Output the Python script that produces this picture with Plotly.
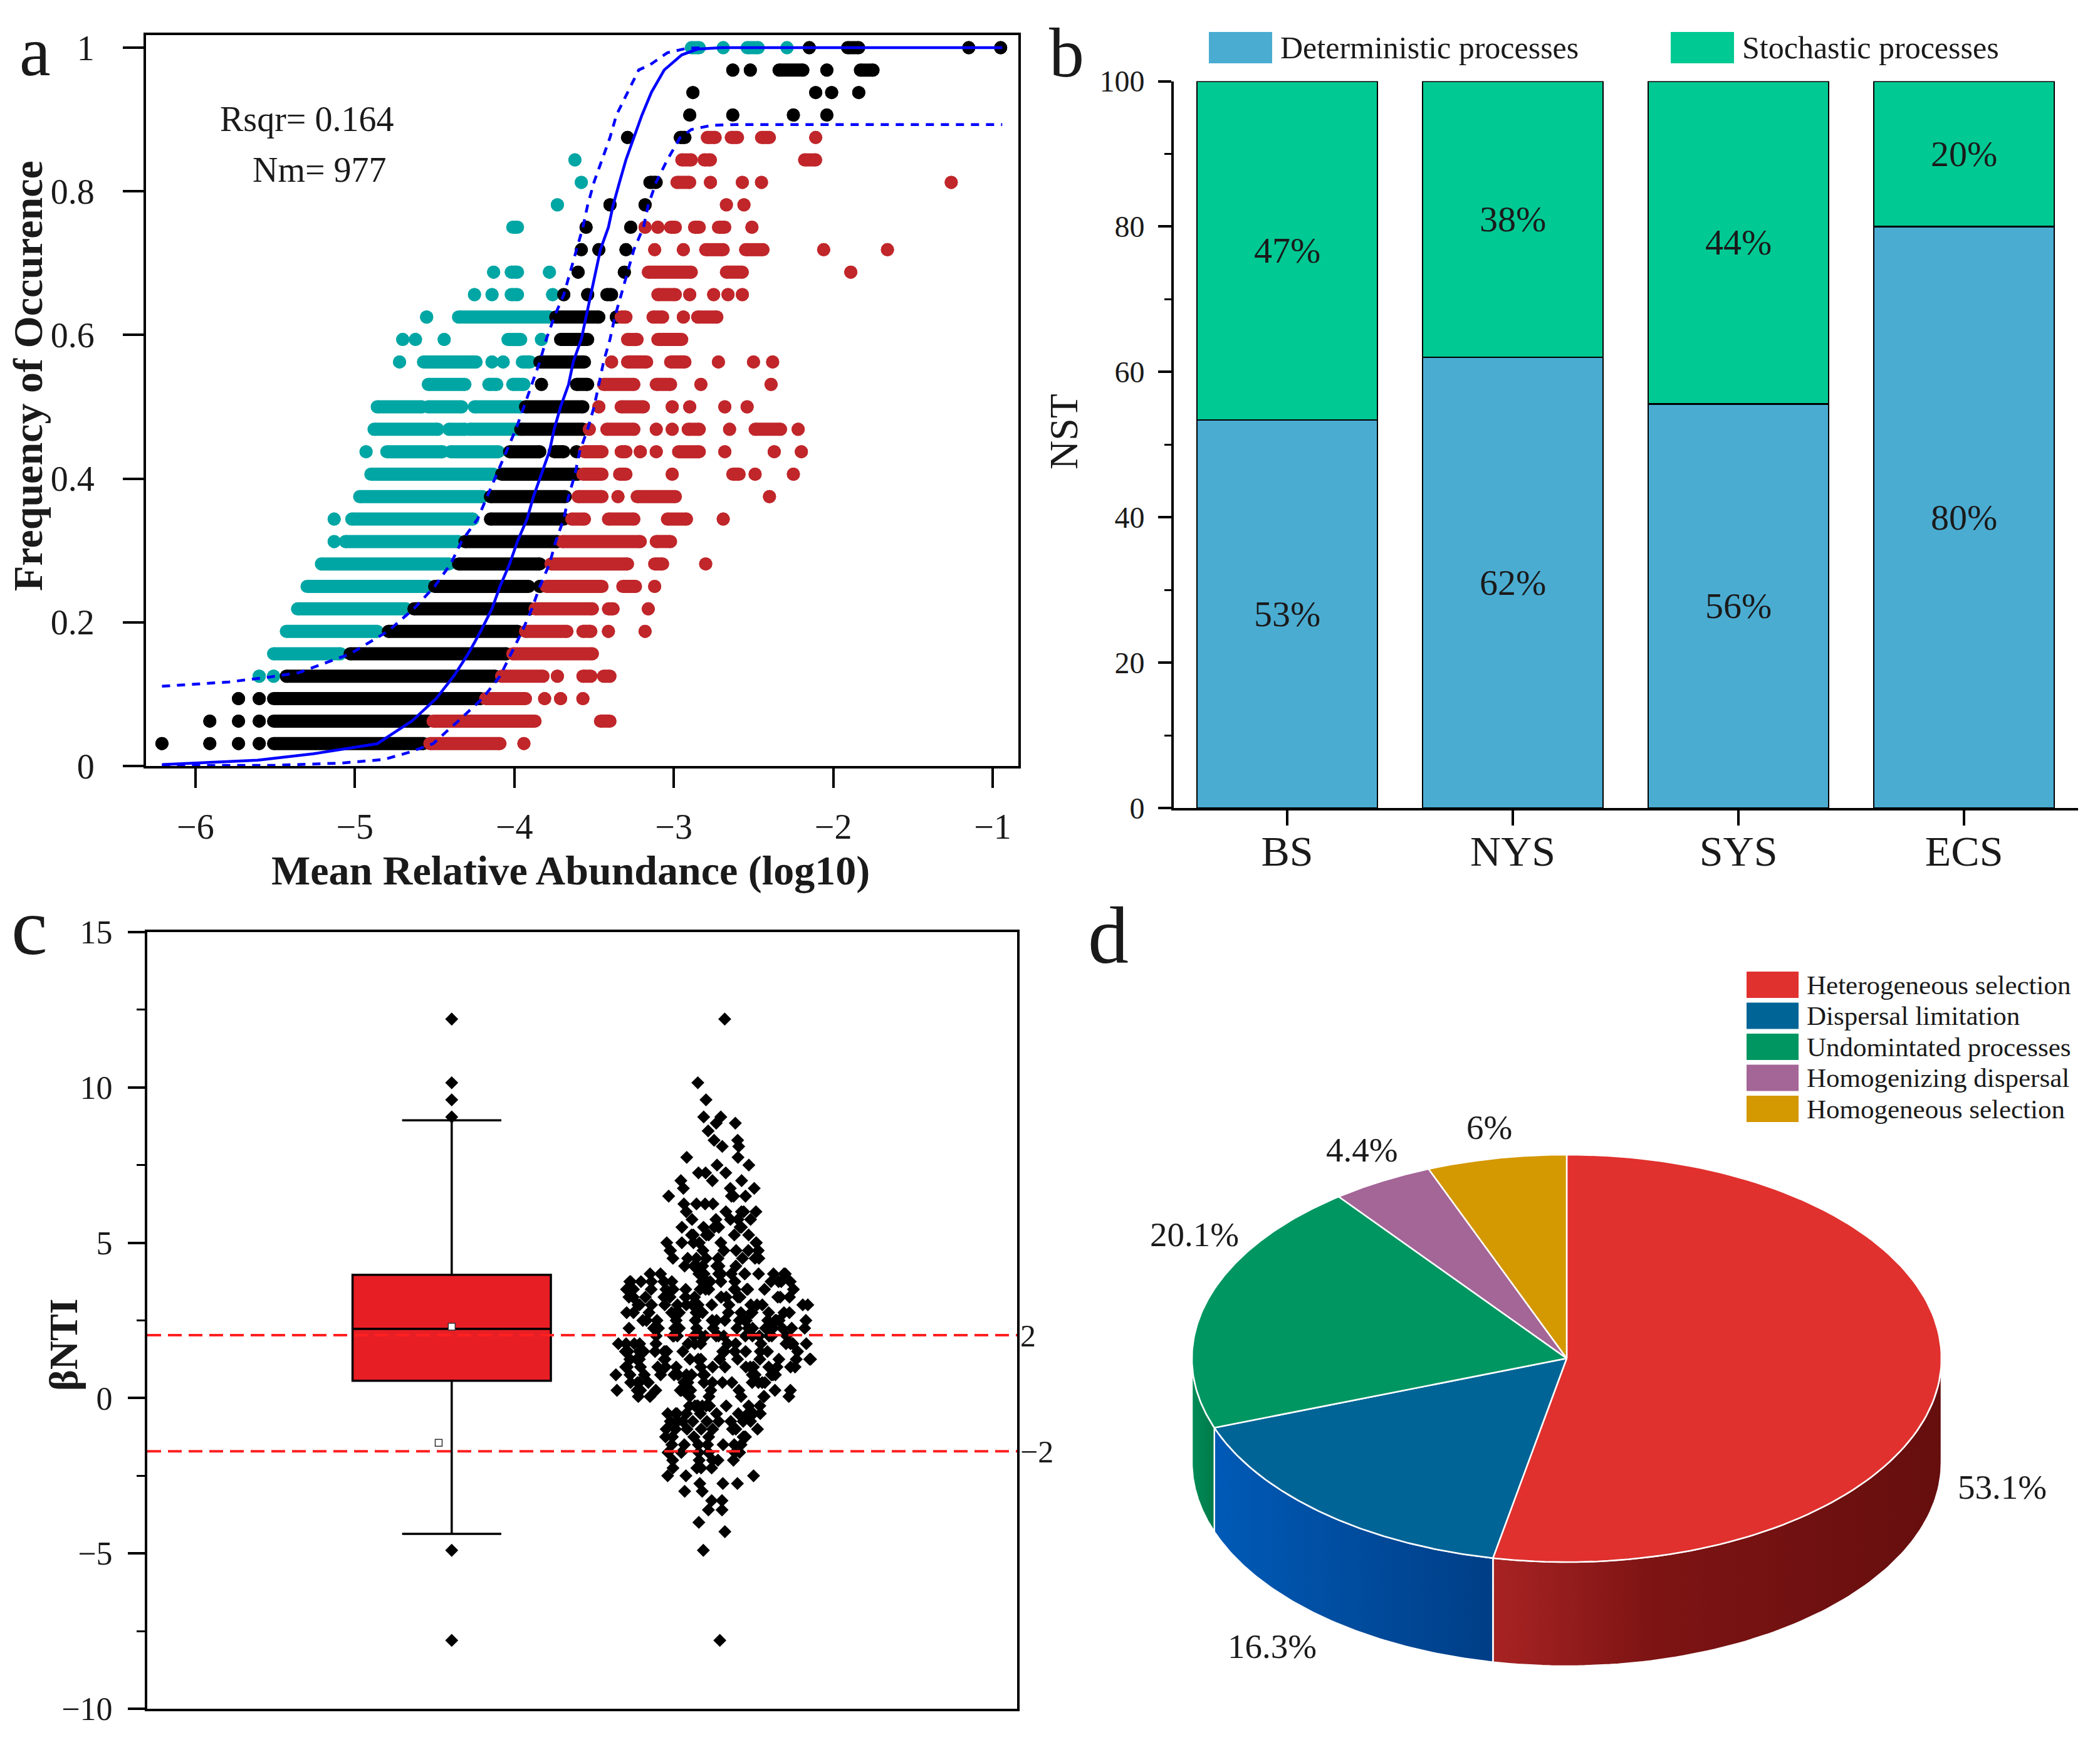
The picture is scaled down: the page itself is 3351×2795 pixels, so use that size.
import numpy as np
import plotly.graph_objects as go

# page is 3351x2795; the html body adds an 8px margin, so the figure is drawn 16px smaller
W, H = 3351, 2795
PAD = 8
FIG_W, FIG_H = W - 2 * PAD, H - 2 * PAD
SERIF = "Liberation Serif, Times New Roman, serif"
INK = "#1a1a1a"


def fx(px):
    return (px - PAD) / FIG_W


def fy(py):
    return 1 - (py - PAD) / FIG_H


# -----------------
# a: neutral community model (occurrence in k of 32 samples)
# -----------------
N_SAMPLES = 32
TEAL_SEGS = [
    (4, -5.60, -5.60), (4, -5.51, -5.51), (5, -5.51, -5.09), (6, -5.43, -4.86),
    (7, -5.36, -4.68), (8, -5.30, -4.54), (9, -5.21, -4.41),
    (10, -5.13, -5.13), (10, -5.06, -4.35), (11, -5.13, -5.13), (11, -5.02, -4.26),
    (12, -4.97, -4.20), (13, -4.90, -4.13),
    (14, -4.93, -4.93), (14, -4.80, -4.45), (14, -4.40, -4.10),
    (15, -4.88, -4.48), (15, -4.41, -4.31), (15, -4.28, -3.98),
    (16, -4.86, -4.58), (16, -4.54, -4.33), (16, -4.25, -3.96),
    (17, -4.54, -4.31), (17, -4.16, -4.11), (17, -4.01, -3.94),
    (18, -4.72, -4.72), (18, -4.57, -4.24), (18, -4.14, -4.14), (18, -4.07, -4.07), (18, -3.95, -3.90),
    (19, -4.70, -4.70), (19, -4.62, -4.62), (19, -4.44, -4.44), (19, -4.04, -3.96), (19, -3.83, -3.83),
    (20, -4.55, -4.55), (20, -4.35, -3.78),
    (21, -4.25, -4.25), (21, -4.14, -4.14), (21, -4.02, -3.98), (21, -3.76, -3.76),
    (22, -4.13, -4.13), (22, -4.02, -3.98), (22, -3.78, -3.78),
    (24, -4.01, -3.98), (25, -3.73, -3.73), (26, -3.58, -3.58), (27, -3.62, -3.62),
    (32, -2.89, -2.84), (32, -2.69, -2.69), (32, -2.54, -2.47), (32, -2.29, -2.29),
]
BLACK_SEGS = [
    (1, -6.21, -6.21), (1, -5.91, -5.91), (1, -5.73, -5.73), (1, -5.60, -5.60), (1, -5.51, -4.57),
    (2, -5.91, -5.91), (2, -5.73, -5.73), (2, -5.60, -5.60), (2, -5.51, -4.54),
    (3, -5.73, -5.73), (3, -5.60, -5.60), (3, -5.51, -4.21),
    (4, -5.43, -4.12), (5, -5.03, -4.05), (6, -4.79, -3.98), (7, -4.63, -3.90),
    (8, -4.50, -3.91), (8, -3.84, -3.84), (9, -4.35, -3.84), (10, -4.31, -3.73),
    (11, -4.15, -3.69), (12, -4.15, -3.68), (13, -4.08, -3.60),
    (14, -4.03, -3.84), (14, -3.75, -3.69), (14, -3.61, -3.61),
    (15, -3.96, -3.57), (16, -3.93, -3.57), (17, -3.83, -3.83), (17, -3.61, -3.54),
    (18, -3.84, -3.56), (19, -3.71, -3.54), (20, -3.74, -3.47), (20, -3.36, -3.36),
    (21, -3.69, -3.69), (21, -3.54, -3.54), (21, -3.42, -3.39),
    (22, -3.60, -3.60), (22, -3.31, -3.31),
    (23, -3.58, -3.58), (23, -3.47, -3.47), (23, -3.30, -3.30),
    (24, -3.55, -3.55), (24, -3.27, -3.27), (25, -3.40, -3.40), (25, -3.18, -3.18),
    (26, -3.15, -3.11), (28, -3.29, -3.29), (28, -2.96, -2.93),
    (29, -2.90, -2.90), (29, -2.63, -2.63), (29, -2.25, -2.25), (29, -2.04, -2.04),
    (30, -2.88, -2.88), (30, -2.11, -2.11), (30, -2.01, -2.01), (30, -1.84, -1.84),
    (31, -2.63, -2.63), (31, -2.52, -2.52), (31, -2.34, -2.19), (31, -2.04, -2.04), (31, -1.83, -1.75),
    (32, -2.15, -2.15), (32, -1.91, -1.84), (32, -1.15, -1.15), (32, -0.95, -0.95),
]
RED_SEGS = [
    (1, -4.53, -4.09), (1, -3.94, -3.94),
    (2, -4.51, -3.87), (2, -3.46, -3.40),
    (3, -4.18, -3.93), (3, -3.81, -3.81), (3, -3.71, -3.71), (3, -3.57, -3.57),
    (4, -4.08, -3.82), (4, -3.73, -3.73), (4, -3.57, -3.52), (4, -3.44, -3.40),
    (5, -4.01, -3.51),
    (6, -3.93, -3.67), (6, -3.57, -3.52), (6, -3.41, -3.41), (6, -3.18, -3.18),
    (7, -3.87, -3.51), (7, -3.41, -3.38), (7, -3.16, -3.16),
    (8, -3.80, -3.45), (8, -3.32, -3.24), (8, -3.12, -3.12),
    (9, -3.77, -3.29), (9, -3.12, -3.07), (9, -2.80, -2.80),
    (10, -3.70, -3.21), (10, -3.11, -3.02),
    (11, -3.64, -3.56), (11, -3.41, -3.25), (11, -3.04, -2.92), (11, -2.69, -2.69),
    (12, -3.60, -3.45), (12, -3.35, -3.35), (12, -3.23, -2.99), (12, -2.40, -2.40),
    (13, -3.57, -3.45), (13, -3.34, -3.30), (13, -3.01, -3.01), (13, -2.63, -2.59),
    (13, -2.49, -2.49), (13, -2.25, -2.25),
    (14, -3.56, -3.45), (14, -3.33, -3.30), (14, -3.21, -3.21), (14, -3.11, -3.11),
    (14, -2.97, -2.84), (14, -2.68, -2.68), (14, -2.37, -2.37), (14, -2.20, -2.20),
    (15, -3.53, -3.53), (15, -3.42, -3.25), (15, -3.11, -3.11), (15, -3.01, -3.01),
    (15, -2.91, -2.84), (15, -2.65, -2.65), (15, -2.49, -2.33), (15, -2.22, -2.22),
    (16, -3.47, -3.47), (16, -3.33, -3.19), (16, -3.01, -3.01), (16, -2.90, -2.90),
    (16, -2.68, -2.68), (16, -2.54, -2.54),
    (17, -3.44, -3.25), (17, -3.11, -3.02), (17, -2.83, -2.83), (17, -2.39, -2.39),
    (18, -3.39, -3.39), (18, -3.29, -3.17), (18, -3.02, -2.93), (18, -2.72, -2.72),
    (18, -2.50, -2.50), (18, -2.38, -2.38),
    (19, -3.29, -3.23), (19, -3.10, -2.95),
    (20, -3.33, -3.30), (20, -3.13, -3.07), (20, -2.94, -2.94), (20, -2.85, -2.73),
    (21, -3.10, -2.99), (21, -2.90, -2.90), (21, -2.75, -2.75), (21, -2.66, -2.66), (21, -2.57, -2.57),
    (22, -3.16, -2.89), (22, -2.67, -2.57), (22, -1.89, -1.89),
    (23, -3.12, -3.12), (23, -2.94, -2.94), (23, -2.80, -2.69), (23, -2.55, -2.44),
    (23, -2.06, -2.06), (23, -1.66, -1.66),
    (24, -3.18, -3.18), (24, -3.10, -3.10), (24, -3.02, -2.99), (24, -2.87, -2.84),
    (24, -2.72, -2.68), (24, -2.51, -2.51),
    (25, -2.67, -2.67), (25, -2.56, -2.56),
    (26, -2.98, -2.90), (26, -2.77, -2.77), (26, -2.57, -2.57), (26, -2.45, -2.45), (26, -1.26, -1.26),
    (27, -2.95, -2.89), (27, -2.81, -2.77), (27, -2.18, -2.11),
    (28, -2.79, -2.74), (28, -2.64, -2.60), (28, -2.45, -2.40), (28, -2.11, -2.11),
]

FIT_X = [-6.21, -5.61, -5.26, -4.86, -4.64, -4.49, -4.38, -4.29, -4.21, -4.14, -4.09, -4.03,
         -3.98, -3.92, -3.88, -3.83, -3.78, -3.75, -3.71, -3.66, -3.63, -3.58, -3.55, -3.52,
         -3.49, -3.46, -3.41, -3.38, -3.34, -3.30, -3.25, -3.20, -3.14, -3.06, -2.95, -2.85,
         -2.70, -0.94]
FIT_Y = [0.002, 0.008, 0.017, 0.031, 0.063, 0.094, 0.125, 0.156, 0.188, 0.219, 0.250, 0.281,
         0.313, 0.344, 0.375, 0.406, 0.438, 0.469, 0.500, 0.531, 0.563, 0.594, 0.625, 0.656,
         0.688, 0.719, 0.750, 0.781, 0.813, 0.844, 0.875, 0.906, 0.938, 0.969, 0.990, 0.998,
         1.0, 1.0]
UPPER_X = [-6.21, -5.79, -5.53, -5.35, -5.03, -4.79, -4.63, -4.50, -4.40, -4.33, -4.23, -4.17,
           -4.11, -4.05, -3.99, -3.94, -3.89, -3.84, -3.80, -3.75, -3.69, -3.65, -3.61, -3.57,
           -3.54, -3.50, -3.45, -3.40, -3.36, -3.29, -3.22, -3.15, -3.04, -2.92, -2.83]
UPPER_Y = [0.111, 0.117, 0.124, 0.130, 0.156, 0.188, 0.219, 0.250, 0.281, 0.313, 0.344, 0.375,
           0.406, 0.438, 0.469, 0.500, 0.531, 0.563, 0.594, 0.625, 0.656, 0.688, 0.719, 0.750,
           0.781, 0.813, 0.844, 0.875, 0.906, 0.938, 0.969, 0.976, 0.993, 0.999, 1.0]
LOWER_X = [-6.21, -5.50, -5.09, -4.82, -4.66, -4.51, -4.35, -4.20, -4.09, -4.02, -3.95, -3.89,
           -3.84, -3.78, -3.74, -3.69, -3.66, -3.62, -3.59, -3.54, -3.50, -3.47, -3.44, -3.40,
           -3.37, -3.33, -3.29, -3.25, -3.19, -3.16, -3.11, -3.04, -2.96, -2.89, -2.76, -2.61, -0.94]
LOWER_Y = [0.0005, 0.001, 0.004, 0.009, 0.019, 0.031, 0.063, 0.094, 0.125, 0.156, 0.188, 0.219,
           0.250, 0.281, 0.313, 0.344, 0.375, 0.406, 0.438, 0.469, 0.500, 0.531, 0.563, 0.594,
           0.625, 0.656, 0.688, 0.719, 0.750, 0.781, 0.813, 0.844, 0.875, 0.886, 0.892, 0.893, 0.893]
RSQR = 0.164
NM = 977

# -----------------
# b: NST
# -----------------
REGIONS = ["BS", "NYS", "SYS", "ECS"]
DETERMINISTIC = [53.4, 62.0, 55.6, 80.0]
STOCHASTIC = [46.6, 38.0, 44.4, 20.0]
DET_LABELS = ["53%", "62%", "56%", "80%"]
STO_LABELS = ["47%", "38%", "44%", "20%"]

# -----------------
# c: betaNTI
# -----------------
BOX_Q1, BOX_MEDIAN, BOX_Q3 = 0.56, 2.23, 3.97
BOX_LOW, BOX_HIGH = -4.37, 8.94
BOX_MEAN = 2.30
BOX_EXTRA = -1.44
BOX_OUTLIERS = [12.2, 10.15, 9.6, 9.05, -4.9, -7.8]
CORE_LEVELS = [4.0, 3.75, 3.5, 3.25, 3.0, 2.75, 2.5, 2.25, 2.0, 1.75, 1.5, 1.25, 1.0,
               0.75, 0.5, 0.25, 0.05]
CORE_COUNTS = [13, 16, 16, 16, 16, 16, 16, 16, 16, 16, 16, 16, 16, 15, 14, 12, 8]
TAIL_LEVELS = [12.2, 10.15, 9.6, 9.05, 8.85, 8.6, 8.3, 8.1, 7.75, 7.5, 7.25, 7.0, 6.75, 6.5,
               6.25, 6.0, 5.75, 5.5, 5.25, 5.0, 4.75, 4.5, 4.25, -0.25, -0.5, -0.75, -1.0,
               -1.25, -1.5, -1.75, -2.0, -2.25, -2.5, -2.75, -3.0, -3.3, -3.6, -4.0, -4.3,
               -4.9, -7.8]
TAIL_COUNTS = [1, 1, 1, 2, 2, 1, 2, 2, 2, 2, 3, 3, 3, 4, 4, 5, 5, 6, 6, 7, 7, 8, 8,
               10, 10, 9, 9, 8, 7, 6, 5, 4, 3, 3, 2, 2, 2, 1, 1, 1, 1]
THRESHOLDS = [2, -2]

# -----------------
# d: ecological processes
# -----------------
PROCESSES = ["Heterogeneous selection", "Dispersal limitation", "Undomintated processes",
             "Homogenizing dispersal", "Homogeneous selection"]
PROCESS_PCT = [53.1, 16.3, 20.1, 4.4, 6.0]
PCT_LABELS = ["53.1%", "16.3%", "20.1%", "4.4%", "6%"]
TOP_COLORS = ["#E0312E", "#006496", "#009662", "#A46597", "#D49800"]
SIDE_SCALES = [
    [[0, "#A82323"], [0.35, "#7E1414"], [1, "#660E0E"]],
    [[0, "#005AB6"], [1, "#003E86"]],
    [[0, "#008C57"], [1, "#007A4A"]],
    [[0, "#8E5482"], [1, "#6E3E64"]],
    [[0, "#B88300"], [1, "#8E6500"]],
]
PIE_LABEL_POS = [(3195, 2372), (2030, 2626), (1906, 1969), (2173, 1834), (2376, 1798)]

fig = go.Figure()


def seg_trace(segs, color):
    xs, ys = [], []
    for k, x0, x1 in segs:
        y = k / N_SAMPLES
        xs += [x0, x1, None]
        ys += [y, y, None]
    return go.Scatter(x=xs, y=ys, mode="lines+markers", line=dict(color=color, width=21),
                      marker=dict(color=color, size=21), hoverinfo="skip",
                      xaxis="x", yaxis="y")


fig.add_trace(seg_trace(TEAL_SEGS, "#00A6A4"))
fig.add_trace(seg_trace(BLACK_SEGS, "#000000"))
fig.add_trace(seg_trace(RED_SEGS, "#C0262A"))
for cx_, cy_, dash in [(UPPER_X, UPPER_Y, "13px,11px"), (LOWER_X, LOWER_Y, "13px,11px"),
                       (FIT_X, FIT_Y, "solid")]:
    fig.add_trace(go.Scatter(x=cx_, y=cy_, mode="lines", hoverinfo="skip",
                             line=dict(color="#0000FF", width=4.5, dash=dash),
                             xaxis="x", yaxis="y"))

# b: stacked bars
fig.add_trace(go.Bar(x=REGIONS, y=DETERMINISTIC, text=DET_LABELS, width=0.8,
                     marker=dict(color="#4BACD2", line=dict(color="black", width=2.5)),
                     textposition="inside", insidetextanchor="middle", textangle=0,
                     textfont=dict(size=58, color=INK, family=SERIF),
                     xaxis="x2", yaxis="y2"))
fig.add_trace(go.Bar(x=REGIONS, y=STOCHASTIC, text=STO_LABELS, width=0.8,
                     marker=dict(color="#00C993", line=dict(color="black", width=2.5)),
                     textposition="inside", insidetextanchor="middle", textangle=0,
                     textfont=dict(size=58, color=INK, family=SERIF),
                     xaxis="x2", yaxis="y2"))

# c: box + swarm
BOX_X, SWARM_X = 0.35, 0.65
fig.add_trace(go.Box(x=[BOX_X], q1=[BOX_Q1], median=[BOX_MEDIAN], q3=[BOX_Q3],
                     lowerfence=[BOX_LOW], upperfence=[BOX_HIGH], width=0.228, whiskerwidth=0.5,
                     fillcolor="#E81E25", line=dict(color="black", width=3.5), boxpoints=False,
                     xaxis="x3", yaxis="y3"))
fig.add_trace(go.Scatter(x=[BOX_X] * len(BOX_OUTLIERS), y=BOX_OUTLIERS, mode="markers",
                         marker=dict(symbol="diamond", size=16, color="black"),
                         xaxis="x3", yaxis="y3"))
fig.add_trace(go.Scatter(x=[BOX_X, BOX_X - 0.015], y=[BOX_MEAN, BOX_EXTRA], mode="markers",
                         marker=dict(symbol="square", size=11, color="white",
                                     line=dict(color="#333333", width=1.5)),
                         xaxis="x3", yaxis="y3"))
for levels, counts, wdt in [(CORE_LEVELS, CORE_COUNTS, 0.226), (TAIL_LEVELS, TAIL_COUNTS, 0.11)]:
    fig.add_trace(go.Box(y=np.repeat(levels, counts), x0=SWARM_X, width=wdt, boxpoints="all",
                         jitter=1, pointpos=0, fillcolor="rgba(0,0,0,0)",
                         line=dict(color="rgba(0,0,0,0)", width=0),
                         marker=dict(symbol="diamond", size=16, color="black"),
                         hoverinfo="skip", xaxis="x3", yaxis="y3"))
tx, ty = [], []
for t in THRESHOLDS:
    tx += [0, 1, None]
    ty += [t, t, None]
fig.add_trace(go.Scatter(x=tx, y=ty, mode="lines", line=dict(color="#FF2020", width=4, dash="22px,11px"),
                         hoverinfo="skip", xaxis="x3", yaxis="y5"))

# d: 3D-looking pie drawn as ellipse slices (coordinates in page pixels)
CX, CY, RX, RY, DEPTH = 2500, 2167, 598, 325, 166
bounds = 90 - 360 * np.cumsum([0] + PROCESS_PCT) / sum(PROCESS_PCT)
for i in range(len(PROCESS_PCT)):
    start, end = bounds[i], bounds[i + 1]
    lo, hi = max(end, -180), min(start, 0)
    if lo < hi:
        t = np.radians(np.linspace(lo, hi, 80))
        ex = CX + RX * np.cos(t)
        ey = CY - RY * np.sin(t)
        px_ = np.concatenate([ex, ex[::-1], ex[:1]])
        py_ = np.concatenate([ey, ey[::-1] + DEPTH, ey[:1]])
        fig.add_trace(go.Scatter(x=px_, y=py_, mode="lines", fill="toself",
                                 fillgradient=dict(type="horizontal", colorscale=SIDE_SCALES[i]),
                                 line=dict(color="white", width=2.5), hoverinfo="skip",
                                 xaxis="x4", yaxis="y4"))
for i in range(len(PROCESS_PCT)):
    t = np.radians(np.linspace(bounds[i], bounds[i + 1], 120))
    px_ = np.concatenate([[CX], CX + RX * np.cos(t), [CX]])
    py_ = np.concatenate([[CY], CY - RY * np.sin(t), [CY]])
    fig.add_trace(go.Scatter(x=px_, y=py_, mode="lines", fill="toself", fillcolor=TOP_COLORS[i],
                             line=dict(color="white", width=2.5), hoverinfo="skip",
                             xaxis="x4", yaxis="y4"))

tick_font = dict(family=SERIF, color=INK)
fig.update_layout(
    width=FIG_W, height=FIG_H, autosize=False, showlegend=False,
    margin=dict(l=0, r=0, t=0, b=0, pad=0),
    paper_bgcolor="white", plot_bgcolor="rgba(0,0,0,0)",
    font=dict(family=SERIF, color=INK),
    barmode="stack", bargap=0.2,
    xaxis=dict(domain=[fx(233), fx(1625)], range=[-6.31, -0.839], showline=True, mirror=True,
               linecolor="black", linewidth=4, ticks="outside", ticklen=31, tickwidth=3.5,
               tickcolor="black", tickvals=[-6, -5, -4, -3, -2, -1], showgrid=False,
               zeroline=False, tickfont=dict(size=56, **tick_font), ticklabelstandoff=14,
               automargin=False),
    yaxis=dict(domain=[fy(1222), fy(56)], range=[0, 1.0175], showline=True, mirror=True,
               linecolor="black", linewidth=4, ticks="outside", ticklen=33, tickwidth=3.5,
               tickcolor="black", tickvals=[0, 0.2, 0.4, 0.6, 0.8, 1],
               ticktext=["0", "0.2", "0.4", "0.6", "0.8", "1"], showgrid=False, zeroline=False,
               tickfont=dict(size=56, **tick_font), ticklabelstandoff=34, automargin=False),
    xaxis2=dict(domain=[fx(1873), fx(3316)], range=[-0.503, 3.505], anchor="y2",
                showline=True, linecolor="black", linewidth=4, ticks="outside", ticklen=24,
                tickwidth=3.5, tickcolor="black", showgrid=False, zeroline=False,
                tickfont=dict(size=68, **tick_font), ticklabelstandoff=-18, automargin=False),
    yaxis2=dict(domain=[fy(1289), fy(129.5)], range=[0, 100], anchor="x2", showline=True,
                linecolor="black", linewidth=4, ticks="outside", ticklen=21, tickwidth=3.5,
                tickcolor="black", dtick=20, showgrid=False, zeroline=False,
                minor=dict(ticks="outside", ticklen=11, tickwidth=3, dtick=10, tickcolor="black"),
                tickfont=dict(size=48, **tick_font), ticklabelstandoff=12, automargin=False),
    xaxis3=dict(domain=[fx(235), fx(1623)], range=[0, 1], anchor="y3", showline=True,
                mirror=True, linecolor="black", linewidth=4, ticks="", showticklabels=False,
                showgrid=False, zeroline=False, automargin=False),
    yaxis3=dict(domain=[fy(2726), fy(1487)], range=[-10, 15], anchor="x3", showline=True,
                mirror=True, linecolor="black", linewidth=4, ticks="outside", ticklen=27,
                tickwidth=3.5, tickcolor="black", dtick=5, showgrid=False, zeroline=False,
                minor=dict(ticks="outside", ticklen=13, tickwidth=3, dtick=2.5, tickcolor="black"),
                tickfont=dict(size=52, **tick_font), ticklabelstandoff=14, automargin=False),
    yaxis5=dict(overlaying="y3", anchor="x3", side="right", range=[-10.88, 15.9],
                tickvals=THRESHOLDS, ticktext=["2", "\u22122"], ticks="", showline=False,
                showgrid=False, zeroline=False, tickfont=dict(size=50, **tick_font),
                ticklabelstandoff=4, automargin=False),
    xaxis4=dict(domain=[fx(1675), 1], range=[1675, W - PAD], anchor="y4", visible=False,
                automargin=False),
    yaxis4=dict(domain=[0, fy(1400)], range=[H - PAD, 1400], anchor="x4", visible=False,
                automargin=False),
)

ann = []


def add_text(x, y, text, size, xanchor="center", **kw):
    ann.append(dict(x=fx(x), y=fy(y), xref="paper", yref="paper", text=text, showarrow=False,
                    xanchor=xanchor, yanchor="middle",
                    font=dict(size=size, family=SERIF, color=INK), **kw))


for lab, x, y, sz in [("a", 56, 82, 112), ("b", 1702, 84, 112),
                      ("c", 47, 1478, 130), ("d", 1768, 1492, 130)]:
    add_text(x, y, lab, sz)
add_text(489, 190, f"Rsqr= {RSQR}", 56)
add_text(510, 271, f"Nm= {NM}", 56)
add_text(910, 1389, "<b>Mean Relative Abundance (log10)</b>", 66)
add_text(45, 600, "<b>Frequency of Occurence</b>", 66, textangle=-90)
add_text(1697, 689, "NST", 64, textangle=-90)
add_text(101, 2145, "<b>\u03b2NTI</b>", 64, textangle=-90)

shapes = []
for label, color, x0, y0 in [("Deterministic processes", "#4BACD2", 1929, 51),
                             ("Stochastic processes", "#00C993", 2666, 51)]:
    shapes.append(dict(type="rect", xref="paper", yref="paper", x0=fx(x0), x1=fx(x0 + 101),
                       y0=fy(y0 + 50), y1=fy(y0), fillcolor=color, line=dict(width=0)))
    add_text(x0 + 112, y0 + 25, label, 50, xanchor="left")

for i, name in enumerate(PROCESSES):
    yc = 1571 + i * 49.5
    shapes.append(dict(type="rect", xref="paper", yref="paper", x0=fx(2787), x1=fx(2870),
                       y0=fy(yc + 21), y1=fy(yc - 21), fillcolor=TOP_COLORS[i], line=dict(width=0)))
    add_text(2881, yc, name, 43, xanchor="left")

for lab, (x, y) in zip(PCT_LABELS, PIE_LABEL_POS):
    add_text(x, y, lab, 55)

fig.update_layout(annotations=ann, shapes=shapes)
fig.write_html("out.html")
